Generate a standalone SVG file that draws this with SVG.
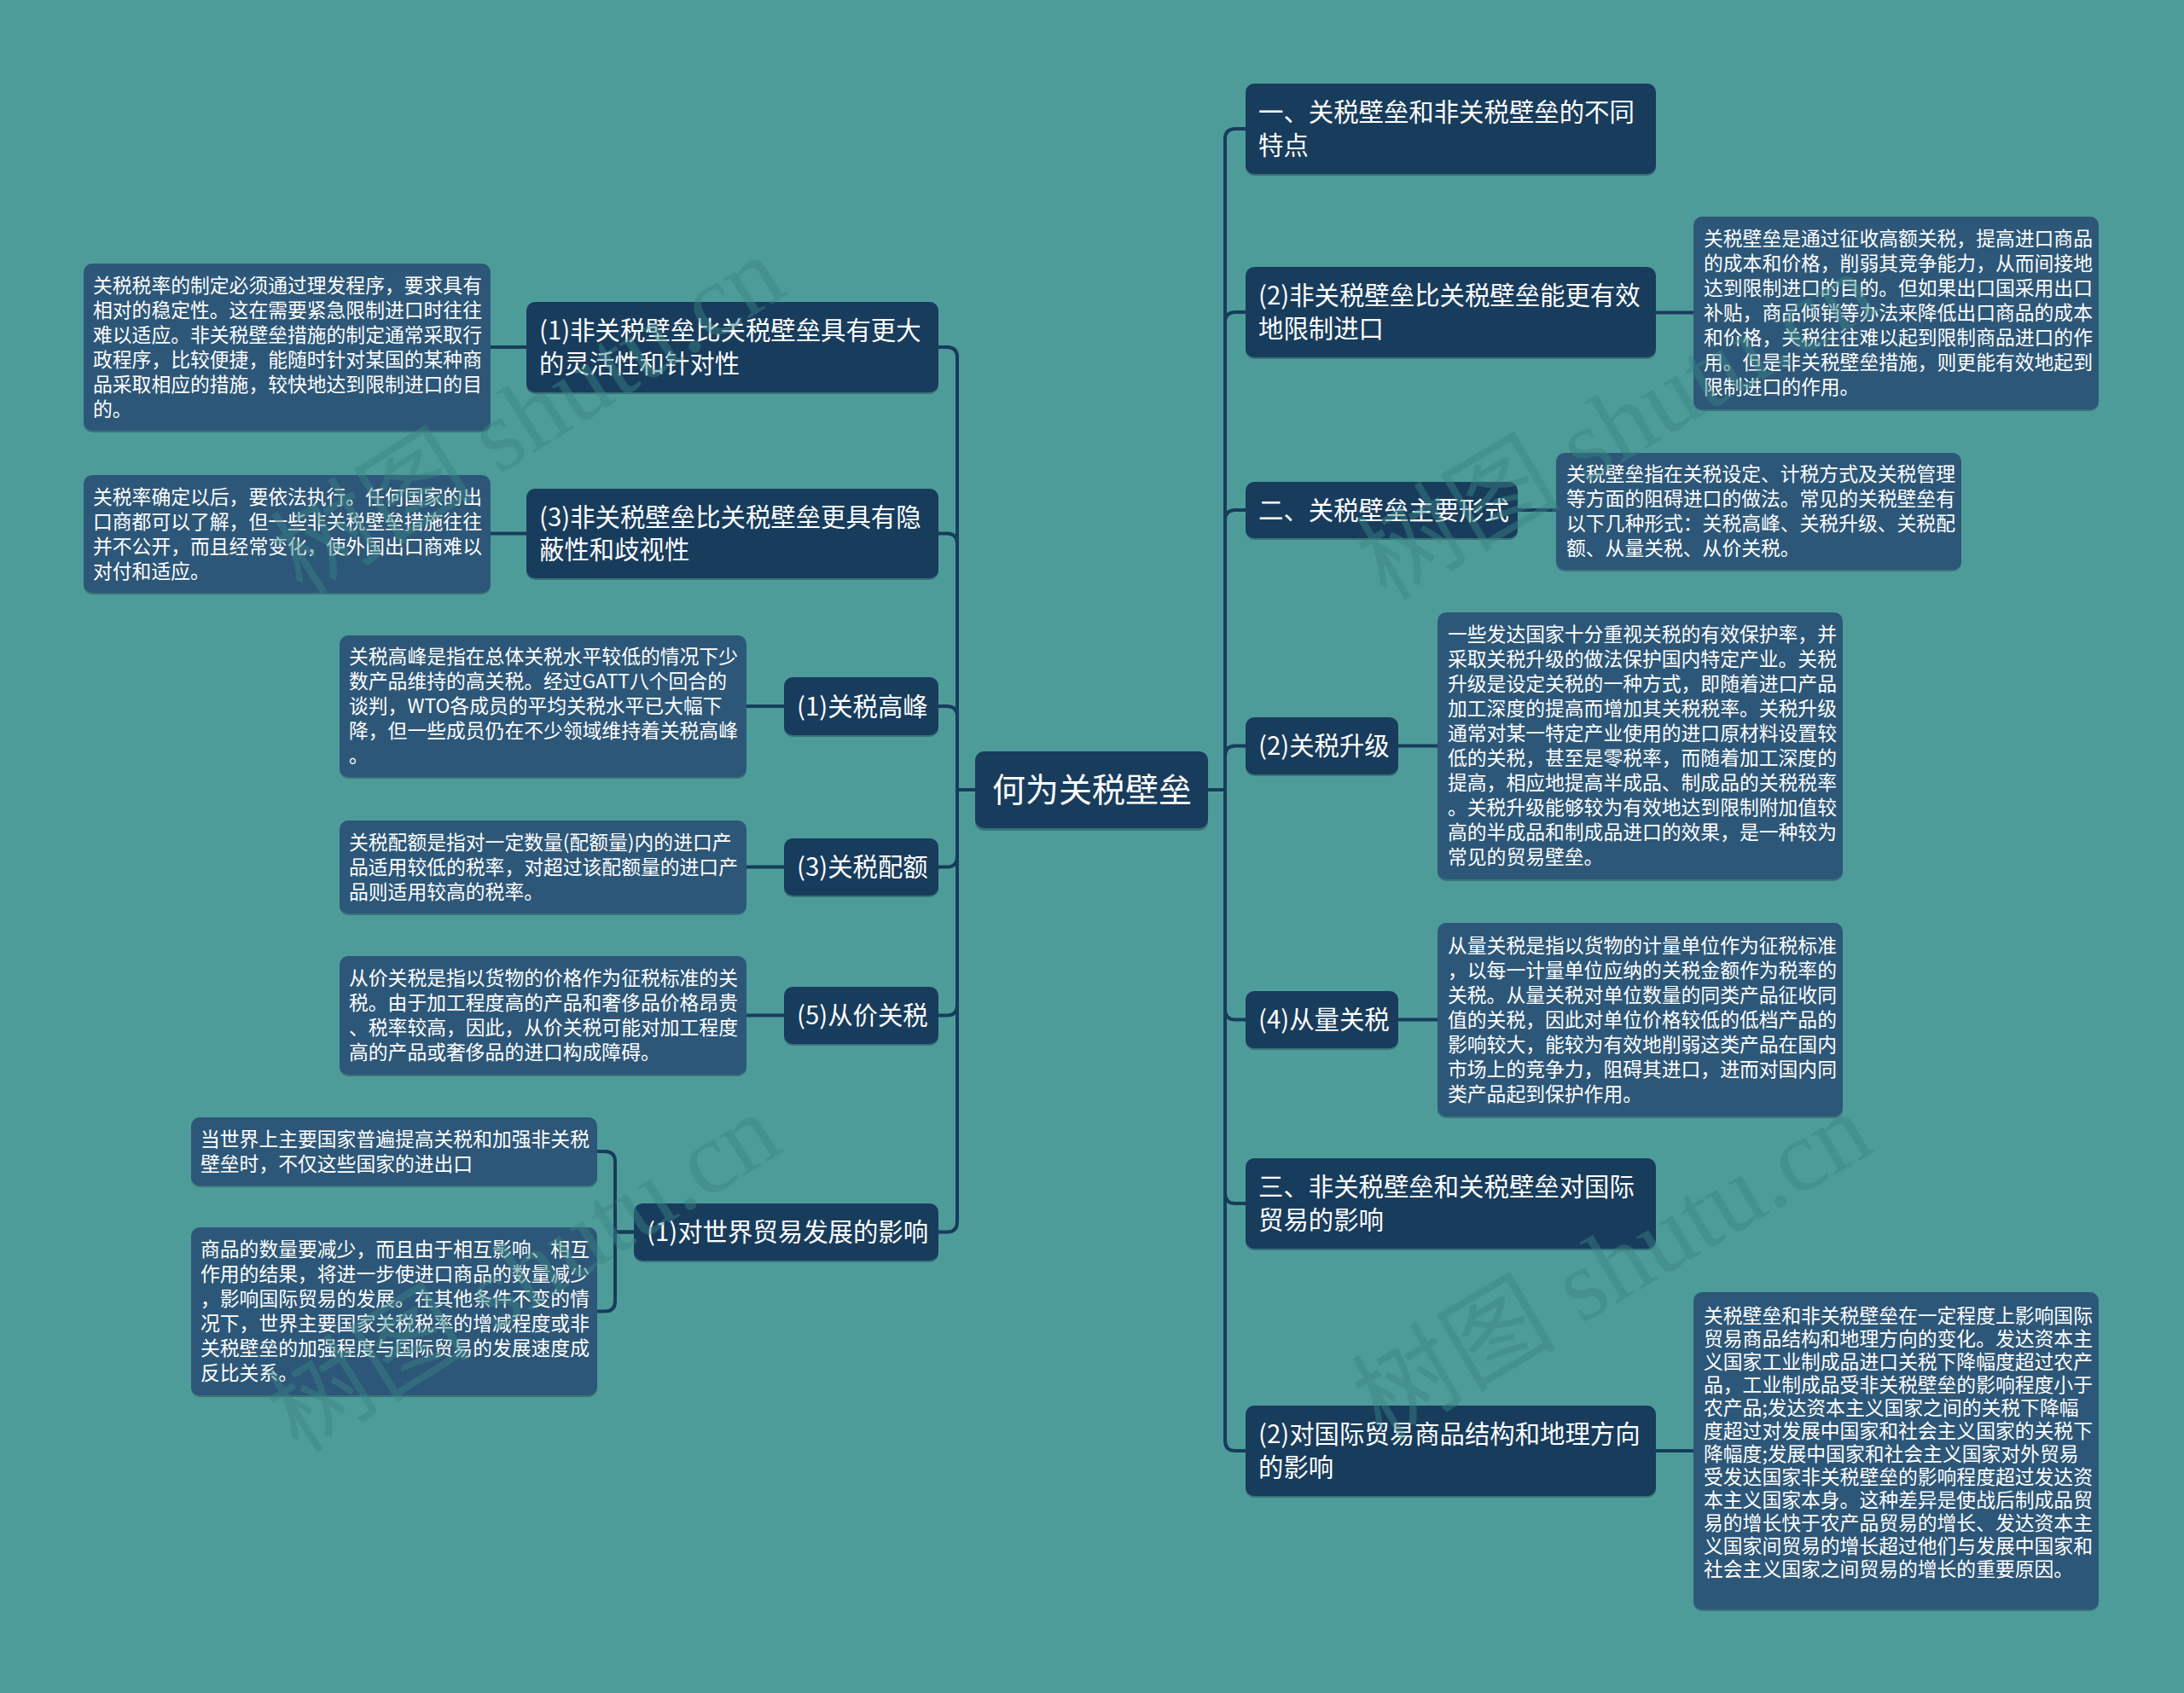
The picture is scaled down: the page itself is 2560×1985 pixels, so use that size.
<svg xmlns="http://www.w3.org/2000/svg" width="2560" height="1985" viewBox="0 0 2560 1985">
<defs>
<style>
.bg{fill:#4e9c9a}
.n1 rect.b{fill:#183c5c}
.lf rect.b{fill:#2d5778}
rect.s{fill:#10293f;opacity:0.35}
.t1{font-family:"Noto Sans CJK SC","Noto Sans",sans-serif;font-size:29.4px;fill:#ffffff}
.t0{font-family:"Noto Sans CJK SC","Noto Sans",sans-serif;font-size:39px;fill:#ffffff}
.tl{font-family:"Noto Sans CJK SC","Noto Sans",sans-serif;font-size:22.8px;fill:#ffffff}
.c path{fill:none;stroke:#183c5c;stroke-width:4}
.wm{font-family:"Liberation Serif","Noto Sans CJK SC",serif;font-size:120px;fill:#3a8585;opacity:0.45}
</style>
</defs>
<rect class="bg" x="0" y="0" width="2560" height="1985"/>

<g class="c" id="connectors">
<path d="M1143,926 H1122 V419 Q1122,407 1110,407 H1100"/>
<path d="M1143,926 H1122 V637.5 Q1122,625.5 1110,625.5 H1100"/>
<path d="M1143,926 H1122 V840 Q1122,828 1110,828 H1100"/>
<path d="M1143,926 H1122 V1004.5 Q1122,1016.5 1110,1016.5 H1100"/>
<path d="M1143,926 H1122 V1178.5 Q1122,1190.5 1110,1190.5 H1100"/>
<path d="M1143,926 H1122 V1432.5 Q1122,1444.5 1110,1444.5 H1100"/>
<path d="M1416,926 H1436 V163 Q1436,151 1448,151 H1460"/>
<path d="M1416,926 H1436 V378 Q1436,366 1448,366 H1460"/>
<path d="M1416,926 H1436 V610 Q1436,598 1448,598 H1460"/>
<path d="M1416,926 H1436 V886.5 Q1436,874.5 1448,874.5 H1460"/>
<path d="M1416,926 H1436 V1183.5 Q1436,1195.5 1448,1195.5 H1460"/>
<path d="M1416,926 H1436 V1399 Q1436,1411 1448,1411 H1460"/>
<path d="M1416,926 H1436 V1689 Q1436,1701 1448,1701 H1460"/>
<path d="M617,407 H575"/>
<path d="M617,625.5 H575"/>
<path d="M919,828 H875"/>
<path d="M919,1016.5 H875"/>
<path d="M919,1190.5 H875"/>
<path d="M743,1444.5 H721 V1362 Q721,1350 709,1350 H700"/>
<path d="M743,1444.5 H721 V1525.5 Q721,1537.5 709,1537.5 H700"/>
<path d="M1941,366.5 H1985"/>
<path d="M1779,598 H1824"/>
<path d="M1639,874.5 H1685"/>
<path d="M1639,1195.5 H1685"/>
<path d="M1941,1701 H1985"/>
</g>

<g class="n1" id="root">
<rect class="s" x="1143" y="884" width="273" height="90" rx="10"/>
<rect class="b" x="1143" y="881" width="273" height="90" rx="10"/>
<text class="t0" x="1163" y="940">何为关税壁垒</text>
</g>

<g class="n1" id="a1">
<rect class="s" x="617" y="356" width="483" height="106" rx="10"/>
<rect class="b" x="617" y="354" width="483" height="106" rx="10"/>
<text class="t1"><tspan x="632" y="398.4">(1)非关税壁垒比关税壁垒具有更大</tspan><tspan x="632" y="436.9">的灵活性和针对性</tspan></text>
</g>
<g class="lf" id="a1-leaf">
<rect class="s" x="98" y="311" width="477" height="196" rx="10"/>
<rect class="b" x="98" y="309" width="477" height="196" rx="10"/>
<text class="tl"><tspan x="109" y="342.7">关税税率的制定必须通过理发程序，要求具有</tspan><tspan x="109" y="371.7">相对的稳定性。这在需要紧急限制进口时往往</tspan><tspan x="109" y="400.7">难以适应。非关税壁垒措施的制定通常采取行</tspan><tspan x="109" y="429.7">政程序，比较便捷，能随时针对某国的某种商</tspan><tspan x="109" y="458.7">品采取相应的措施，较快地达到限制进口的目</tspan><tspan x="109" y="487.7">的。</tspan></text>
</g>

<g class="n1" id="a2">
<rect class="s" x="617" y="575" width="483" height="105" rx="10"/>
<rect class="b" x="617" y="573" width="483" height="105" rx="10"/>
<text class="t1"><tspan x="632" y="616.9">(3)非关税壁垒比关税壁垒更具有隐</tspan><tspan x="632" y="655.4">蔽性和歧视性</tspan></text>
</g>
<g class="lf" id="a2-leaf">
<rect class="s" x="98" y="559" width="477" height="138" rx="10"/>
<rect class="b" x="98" y="557" width="477" height="138" rx="10"/>
<text class="tl"><tspan x="109" y="590.7">关税率确定以后，要依法执行。任何国家的出</tspan><tspan x="109" y="619.7">口商都可以了解，但一些非关税壁垒措施往往</tspan><tspan x="109" y="648.7">并不公开，而且经常变化，使外国出口商难以</tspan><tspan x="109" y="677.7">对付和适应。</tspan></text>
</g>

<g class="n1" id="a3">
<rect class="s" x="919" y="796" width="181" height="68" rx="10"/>
<rect class="b" x="919" y="794" width="181" height="68" rx="10"/>
<text class="t1" x="934" y="838.6">(1)关税高峰</text>
</g>
<g class="lf" id="a3-leaf">
<rect class="s" x="398" y="747" width="477" height="166" rx="10"/>
<rect class="b" x="398" y="745" width="477" height="166" rx="10"/>
<text class="tl"><tspan x="409" y="778.2">关税高峰是指在总体关税水平较低的情况下少</tspan><tspan x="409" y="807.2">数产品维持的高关税。经过GATT八个回合的</tspan><tspan x="409" y="836.2">谈判，WTO各成员的平均关税水平已大幅下</tspan><tspan x="409" y="865.2">降，但一些成员仍在不少领域维持着关税高峰</tspan><tspan x="409" y="894.2">。</tspan></text>
</g>

<g class="n1" id="a4">
<rect class="s" x="919" y="985" width="181" height="67" rx="10"/>
<rect class="b" x="919" y="983" width="181" height="67" rx="10"/>
<text class="t1" x="934" y="1027.1">(3)关税配额</text>
</g>
<g class="lf" id="a4-leaf">
<rect class="s" x="398" y="964" width="477" height="109" rx="10"/>
<rect class="b" x="398" y="962" width="477" height="109" rx="10"/>
<text class="tl"><tspan x="409" y="995.7">关税配额是指对一定数量(配额量)内的进口产</tspan><tspan x="409" y="1024.7">品适用较低的税率，对超过该配额量的进口产</tspan><tspan x="409" y="1053.7">品则适用较高的税率。</tspan></text>
</g>

<g class="n1" id="a5">
<rect class="s" x="919" y="1159" width="181" height="67" rx="10"/>
<rect class="b" x="919" y="1157" width="181" height="67" rx="10"/>
<text class="t1" x="934" y="1201.1">(5)从价关税</text>
</g>
<g class="lf" id="a5-leaf">
<rect class="s" x="398" y="1123" width="477" height="139" rx="10"/>
<rect class="b" x="398" y="1121" width="477" height="139" rx="10"/>
<text class="tl"><tspan x="409" y="1155.2">从价关税是指以货物的价格作为征税标准的关</tspan><tspan x="409" y="1184.2">税。由于加工程度高的产品和奢侈品价格昂贵</tspan><tspan x="409" y="1213.2">、税率较高，因此，从价关税可能对加工程度</tspan><tspan x="409" y="1242.2">高的产品或奢侈品的进口构成障碍。</tspan></text>
</g>

<g class="n1" id="a6">
<rect class="s" x="743" y="1413" width="357" height="67" rx="10"/>
<rect class="b" x="743" y="1411" width="357" height="67" rx="10"/>
<text class="t1" x="758" y="1455.1">(1)对世界贸易发展的影响</text>
</g>
<g class="lf" id="a6-leaf1">
<rect class="s" x="224" y="1312" width="476" height="80" rx="10"/>
<rect class="b" x="224" y="1310" width="476" height="80" rx="10"/>
<text class="tl"><tspan x="235" y="1343.7">当世界上主要国家普遍提高关税和加强非关税</tspan><tspan x="235" y="1372.7">壁垒时，不仅这些国家的进出口</tspan></text>
</g>
<g class="lf" id="a6-leaf2">
<rect class="s" x="224" y="1441" width="476" height="197" rx="10"/>
<rect class="b" x="224" y="1439" width="476" height="197" rx="10"/>
<text class="tl"><tspan x="235" y="1473.2">商品的数量要减少，而且由于相互影响、相互</tspan><tspan x="235" y="1502.2">作用的结果，将进一步使进口商品的数量减少</tspan><tspan x="235" y="1531.2">，影响国际贸易的发展。在其他条件不变的情</tspan><tspan x="235" y="1560.2">况下，世界主要国家关税税率的增减程度或非</tspan><tspan x="235" y="1589.2">关税壁垒的加强程度与国际贸易的发展速度成</tspan><tspan x="235" y="1618.2">反比关系。</tspan></text>
</g>

<g class="n1" id="b1">
<rect class="s" x="1460" y="100" width="481" height="106" rx="10"/>
<rect class="b" x="1460" y="98" width="481" height="106" rx="10"/>
<text class="t1"><tspan x="1475" y="142.4">一、关税壁垒和非关税壁垒的不同</tspan><tspan x="1475" y="180.9">特点</tspan></text>
</g>

<g class="n1" id="b2">
<rect class="s" x="1460" y="315" width="481" height="106" rx="10"/>
<rect class="b" x="1460" y="313" width="481" height="106" rx="10"/>
<text class="t1"><tspan x="1475" y="357.4">(2)非关税壁垒比关税壁垒能更有效</tspan><tspan x="1475" y="395.9">地限制进口</tspan></text>
</g>
<g class="lf" id="b2-leaf">
<rect class="s" x="1985" y="256" width="475" height="226" rx="10"/>
<rect class="b" x="1985" y="254" width="475" height="226" rx="10"/>
<text class="tl"><tspan x="1997" y="288.2">关税壁垒是通过征收高额关税，提高进口商品</tspan><tspan x="1997" y="317.2">的成本和价格，削弱其竞争能力，从而间接地</tspan><tspan x="1997" y="346.2">达到限制进口的目的。但如果出口国采用出口</tspan><tspan x="1997" y="375.2">补贴，商品倾销等办法来降低出口商品的成本</tspan><tspan x="1997" y="404.2">和价格，关税往往难以起到限制商品进口的作</tspan><tspan x="1997" y="433.2">用。但是非关税壁垒措施，则更能有效地起到</tspan><tspan x="1997" y="462.2">限制进口的作用。</tspan></text>
</g>

<g class="n1" id="b3">
<rect class="s" x="1460" y="567" width="319" height="66" rx="10"/>
<rect class="b" x="1460" y="565" width="319" height="66" rx="10"/>
<text class="t1" x="1475" y="608.6">二、关税壁垒主要形式</text>
</g>
<g class="lf" id="b3-leaf">
<rect class="s" x="1824" y="533" width="475" height="137" rx="10"/>
<rect class="b" x="1824" y="531" width="475" height="137" rx="10"/>
<text class="tl"><tspan x="1836" y="564.2">关税壁垒指在关税设定、计税方式及关税管理</tspan><tspan x="1836" y="593.2">等方面的阻碍进口的做法。常见的关税壁垒有</tspan><tspan x="1836" y="622.2">以下几种形式：关税高峰、关税升级、关税配</tspan><tspan x="1836" y="651.2">额、从量关税、从价关税。</tspan></text>
</g>

<g class="n1" id="b4">
<rect class="s" x="1460" y="843" width="179" height="67" rx="10"/>
<rect class="b" x="1460" y="841" width="179" height="67" rx="10"/>
<text class="t1" x="1475" y="885.1">(2)关税升级</text>
</g>
<g class="lf" id="b4-leaf">
<rect class="s" x="1685" y="720" width="475" height="313" rx="10"/>
<rect class="b" x="1685" y="718" width="475" height="313" rx="10"/>
<text class="tl"><tspan x="1697" y="752.2">一些发达国家十分重视关税的有效保护率，并</tspan><tspan x="1697" y="781.2">采取关税升级的做法保护国内特定产业。关税</tspan><tspan x="1697" y="810.2">升级是设定关税的一种方式，即随着进口产品</tspan><tspan x="1697" y="839.2">加工深度的提高而增加其关税税率。关税升级</tspan><tspan x="1697" y="868.2">通常对某一特定产业使用的进口原材料设置较</tspan><tspan x="1697" y="897.2">低的关税，甚至是零税率，而随着加工深度的</tspan><tspan x="1697" y="926.2">提高，相应地提高半成品、制成品的关税税率</tspan><tspan x="1697" y="955.2">。关税升级能够较为有效地达到限制附加值较</tspan><tspan x="1697" y="984.2">高的半成品和制成品进口的效果，是一种较为</tspan><tspan x="1697" y="1013.2">常见的贸易壁垒。</tspan></text>
</g>

<g class="n1" id="b5">
<rect class="s" x="1460" y="1164" width="179" height="67" rx="10"/>
<rect class="b" x="1460" y="1162" width="179" height="67" rx="10"/>
<text class="t1" x="1475" y="1206.1">(4)从量关税</text>
</g>
<g class="lf" id="b5-leaf">
<rect class="s" x="1685" y="1084" width="475" height="227" rx="10"/>
<rect class="b" x="1685" y="1082" width="475" height="227" rx="10"/>
<text class="tl"><tspan x="1697" y="1116.7">从量关税是指以货物的计量单位作为征税标准</tspan><tspan x="1697" y="1145.7">，以每一计量单位应纳的关税金额作为税率的</tspan><tspan x="1697" y="1174.7">关税。从量关税对单位数量的同类产品征收同</tspan><tspan x="1697" y="1203.7">值的关税，因此对单位价格较低的低档产品的</tspan><tspan x="1697" y="1232.7">影响较大，能较为有效地削弱这类产品在国内</tspan><tspan x="1697" y="1261.7">市场上的竞争力，阻碍其进口，进而对国内同</tspan><tspan x="1697" y="1290.7">类产品起到保护作用。</tspan></text>
</g>

<g class="n1" id="b6">
<rect class="s" x="1460" y="1360" width="481" height="106" rx="10"/>
<rect class="b" x="1460" y="1358" width="481" height="106" rx="10"/>
<text class="t1"><tspan x="1475" y="1402.4">三、非关税壁垒和关税壁垒对国际</tspan><tspan x="1475" y="1440.9">贸易的影响</tspan></text>
</g>

<g class="n1" id="b7">
<rect class="s" x="1460" y="1650" width="481" height="106" rx="10"/>
<rect class="b" x="1460" y="1648" width="481" height="106" rx="10"/>
<text class="t1"><tspan x="1475" y="1692.4">(2)对国际贸易商品结构和地理方向</tspan><tspan x="1475" y="1730.9">的影响</tspan></text>
</g>
<g class="lf" id="b7-leaf">
<rect class="s" x="1985" y="1517" width="475" height="372" rx="10"/>
<rect class="b" x="1985" y="1515" width="475" height="372" rx="10"/>
<text class="tl"><tspan x="1997" y="1551">关税壁垒和非关税壁垒在一定程度上影响国际</tspan><tspan x="1997" y="1578">贸易商品结构和地理方向的变化。发达资本主</tspan><tspan x="1997" y="1605">义国家工业制成品进口关税下降幅度超过农产</tspan><tspan x="1997" y="1632">品，工业制成品受非关税壁垒的影响程度小于</tspan><tspan x="1997" y="1659">农产品;发达资本主义国家之间的关税下降幅</tspan><tspan x="1997" y="1686">度超过对发展中国家和社会主义国家的关税下</tspan><tspan x="1997" y="1713">降幅度;发展中国家和社会主义国家对外贸易</tspan><tspan x="1997" y="1740">受发达国家非关税壁垒的影响程度超过发达资</tspan><tspan x="1997" y="1767">本主义国家本身。这种差异是使战后制成品贸</tspan><tspan x="1997" y="1794">易的增长快于农产品贸易的增长、发达资本主</tspan><tspan x="1997" y="1821">义国家间贸易的增长超过他们与发展中国家和</tspan><tspan x="1997" y="1848">社会主义国家之间贸易的增长的重要原因。</tspan></text>
</g>

<g id="watermarks">
<text class="wm" transform="translate(355,700) rotate(-32)">树图 shutu.cn</text>
<text class="wm" transform="translate(350,1705) rotate(-32)">树图 shutu.cn</text>
<text class="wm" transform="translate(1625,705) rotate(-30.5)">树图 shutu.cn</text>
<text class="wm" transform="translate(1620,1690) rotate(-30.5)">树图 shutu.cn</text>
</g>
</svg>
